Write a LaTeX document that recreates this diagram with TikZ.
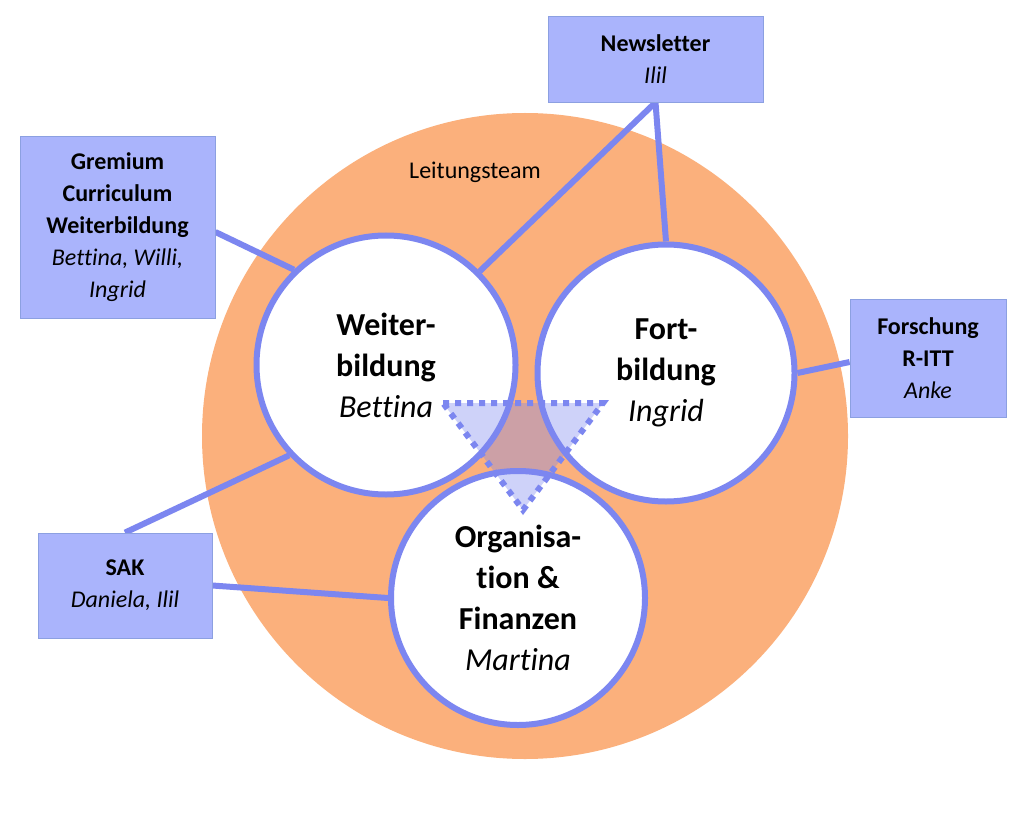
\documentclass[tikz,border=0pt]{standalone}
\usepackage{fontspec}
\setmainfont{Carlito}[Ligatures=CommonOff]
\usetikzlibrary{backgrounds}
\definecolor{orangebg}{RGB}{251,176,124}
\definecolor{lineblue}{RGB}{124,134,240}
\definecolor{boxfill}{RGB}{170,180,252}
\definecolor{boxborder}{RGB}{140,160,225}
\begin{document}
\begin{tikzpicture}[x=1pt,y=-1pt,
  team/.style={circle, fill=white, draw=lineblue, line width=6pt, inner sep=0pt, align=center, font=\fontsize{32}{41}\selectfont},
  infobox/.style={rectangle, fill=boxfill, draw=boxborder, line width=0.8pt, align=center, inner sep=0pt, font=\fontsize{24}{32}\selectfont},
  link/.style={draw=lineblue, line width=6pt},
  tri/.style={lineblue, line width=6pt, dash pattern=on 6pt off 6pt}
]
\useasboundingbox (0,0) rectangle (1024,818);
% team circles
\node[team, minimum size=259pt] (wb) at (386,365) {\textbf{Weiter-}\\\textbf{bildung}\\\textit{Bettina}};
\node[team, minimum size=257pt] (fb) at (666,373) {\textbf{Fort-}\\\textbf{bildung}\\\textit{Ingrid}};
\node[team, minimum size=254pt] (of) at (518,598) {\textbf{Organisa-}\\\textbf{tion \&}\\\textbf{Finanzen}\\\textit{Martina}};
% boxes
\node[infobox, minimum width=215pt, minimum height=86pt] (nl) at (655.5,59) {\textbf{Newsletter}\\\textit{Ilil}};
\node[infobox, minimum width=195pt, minimum height=182pt] (gc) at (117.5,227) {\textbf{Gremium}\\\textbf{Curriculum}\\\textbf{Weiterbildung}\\\textit{Bettina, Willi,}\\\textit{Ingrid}};
\node[infobox, minimum width=156pt, minimum height=118pt] (fo) at (928,358) {\textbf{Forschung}\\\textbf{R-ITT}\\\textit{Anke}};
\node[infobox, minimum width=174pt, minimum height=105pt] (sak) at (125,585.5) {\textbf{SAK}\\\textit{Daniela, Ilil}};
% triangle
\coordinate (t1) at (443,403);
\coordinate (t2) at (603,403);
\coordinate (t3) at (523,510);
\fill[lineblue, opacity=0.37] (t1) -- (t2) -- (t3) -- cycle;
\draw[tri] (t1) -- (t2) -- (t3) -- cycle;
\begin{pgfonlayer}{background}
  \fill[white] (0,0) rectangle (1024,818);
  \node[circle, fill=orangebg, minimum size=646pt, inner sep=0pt] (lead) at (525,436) {};
  \node[font=\fontsize{24}{28}\selectfont] (lt) at (475,172) {Leitungsteam};
  \draw[link] ([yshift=-5pt]gc.east) -- (wb.134);
  \draw[link] (nl.south) -- (wb.45.6);
  \draw[link] (nl.south) -- (fb.90);
  \draw[link] ([yshift=-4pt]fo.west) -- (fb.0);
  \draw[link] (sak.north) -- (wb.223);
  \draw[link] (sak.east) -- (of.180);
\end{pgfonlayer}
\end{tikzpicture}
\end{document}
